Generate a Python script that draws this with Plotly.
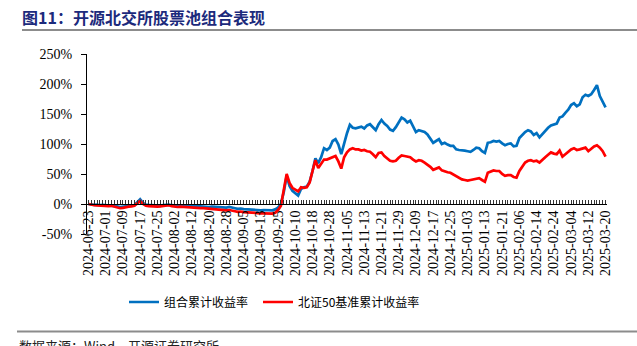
import pandas as pd
import plotly.graph_objects as go

# Trading calendar (A-share market), starting from the base date
start_date = "2024-06-23"
holidays = ["2024-09-16", "2024-09-17",
            "2024-10-01", "2024-10-02", "2024-10-03", "2024-10-04", "2024-10-07",
            "2025-01-01",
            "2025-01-28", "2025-01-29", "2025-01-30", "2025-01-31", "2025-02-03", "2025-02-04"]
bdays = pd.bdate_range("2024-06-24", "2025-03-20")
bdays = [d for d in bdays if d.strftime("%Y-%m-%d") not in holidays]
dates = [start_date] + [d.strftime("%Y-%m-%d") for d in bdays]

# Cumulative return of the portfolio (%)
portfolio = [
    0, -1, -1.5, -1, -2, -1.5, -2, -2.5, -2, -3,
    -4, -5, -4.5, -3.5, -3, -2.5, -2, 3, 8, 2,
    -1, -1.5, -2, -2.5, -2, -3, -2, -1.5, -1, -2,
    -3, -3, -2.5, -3, -3.5, -3, -3.5, -4, -3.5, -4,
    -4.5, -4, -5, -4.5, -5, -5, -6, -5.5, -6, -5,
    -6.5, -7, -8, -7.5, -8.5, -9, -9.5, -10, -9.5, -10,
    -10.5, -10, -10.5, -10, -10.5, -9, -6, 0, 20, 47,
    30, 22, 18, 14, 25, 28, 29, 37, 55, 76,
    68, 78, 93, 90, 94, 105, 108, 99, 83, 102,
    118, 132, 127, 126, 127, 129, 126, 131, 133, 128,
    123, 133, 140, 134, 130, 124, 122, 128, 136, 144,
    141, 136, 139, 128, 120, 123, 122, 120, 116, 108,
    102, 105, 108, 100, 102, 99, 97, 97, 91, 90,
    90, 89, 88, 87, 90, 94, 93, 88, 85, 102,
    103, 105, 104, 105, 101, 98, 100, 101, 96, 97,
    110, 116, 120, 123, 121, 115, 118, 111, 117, 123,
    127, 131, 133, 134, 144, 146, 152, 157, 165, 168,
    163, 166, 178, 182, 180, 183, 190, 198, 180, 170,
    161,
]

# Cumulative return of the BSE 50 benchmark (%)
benchmark = [
    0, -1.5, -2, -2.5, -3, -2.5, -3, -3.5, -3, -4,
    -5.5, -7, -6.5, -5, -4.5, -4, -3, 1, 5, 0,
    -3, -3.5, -4, -4, -4.5, -4, -3.5, -2.5, -2, -3.5,
    -4.5, -5, -4.5, -5, -5, -5.5, -6, -6, -6.5, -7,
    -7, -7.5, -8, -7.5, -8, -8.5, -9.5, -10, -10.5, -10,
    -11.5, -12, -13, -12.5, -13.5, -14, -14.5, -15, -14.5, -15,
    -15.5, -15.5, -16, -15.5, -16, -14.5, -10, -3, 22, 50,
    35, 27, 24, 21, 28, 27, 28, 36, 55, 73,
    60, 66, 74, 74, 76, 79, 80, 71, 59, 78,
    86, 91, 93, 91, 91, 89, 90, 88, 87, 83,
    78, 85, 86, 80, 76, 72, 71, 72, 77, 81,
    80, 79, 78, 74, 71, 73, 72, 69, 66, 62,
    57, 59, 61, 56, 54, 53, 52, 49, 46, 43,
    41, 40, 39, 40, 41, 43, 43, 40, 37, 52,
    54, 56, 55, 55, 50, 47, 48, 48, 45, 44,
    55, 63, 69, 72, 73, 71, 72, 69, 74, 78,
    82, 86, 84, 83, 89, 79, 83, 87, 91, 93,
    90, 91, 93, 94, 88, 92, 96, 98, 94, 88,
    79,
]

series_names = ["组合累计收益率", "北证50基准累计收益率"]
series_colors = ["#0070C0", "#FF0000"]

y_ticks = [-50, 0, 50, 100, 150, 200, 250]
y_ticktext = [f"{v}%" for v in y_ticks]

idx = list(range(len(dates)))
label_step = 6

W, H = 637, 346
ML, MR, MT, MB = 87, 30, 54, 112
plot_w = W - ML - MR
plot_h = H - MT - MB


def px_x(px):
    return (px - ML) / plot_w


def px_y(py):
    return (H - MB - py) / plot_h


serif = "Liberation Serif, Times New Roman, serif"
cjk = "Noto Sans CJK SC, sans-serif"

fig = go.Figure()
legend_ids = ["legend", "legend2"]
for name, vals, color, lg in zip(series_names, [portfolio, benchmark], series_colors, legend_ids):
    fig.add_trace(go.Scatter(
        x=idx, y=vals, mode="lines", name=name, legend=lg,
        line=dict(color=color, width=2.7),
    ))

zero_pos = (0 - y_ticks[0]) / (y_ticks[-1] - y_ticks[0])

legend_style = dict(
    orientation="h", xanchor="left", yanchor="middle", y=px_y(302),
    font=dict(family=cjk, size=12, color="black"),
    bgcolor="rgba(0,0,0,0)", itemwidth=30,
)

fig.update_layout(
    width=W, height=H,
    margin=dict(l=ML, r=MR, t=MT, b=MB),
    paper_bgcolor="white", plot_bgcolor="white",
    title=dict(
        text="<b>图11：开源北交所股票池组合表现</b>",
        font=dict(family=cjk, size=16, color="#1C2A7C"),
        x=22 / W, xanchor="left", xref="container",
        y=1 - 18 / H, yanchor="middle", yref="container",
    ),
    xaxis=dict(
        range=[-0.5, len(dates) - 0.5],
        anchor="free", position=zero_pos,
        showline=True, linecolor="black", linewidth=1,
        ticks="inside", ticklen=4, tickcolor="#333", tickwidth=1,
        tickvals=idx[::label_step], ticktext=dates[::label_step],
        tickangle=-90, tickfont=dict(family=serif, size=14, color="black"),
        minor=dict(dtick=1, ticks="inside", ticklen=4, tickcolor="#333", tickwidth=1),
        showgrid=False, zeroline=False,
    ),
    yaxis=dict(
        range=[y_ticks[0], y_ticks[-1]],
        tickvals=y_ticks, ticktext=y_ticktext,
        showline=True, linecolor="black", linewidth=1,
        ticks="outside", ticklen=5, tickcolor="black",
        ticklabelstandoff=6,
        tickfont=dict(family=serif, size=14, color="black"),
        showgrid=False, zeroline=False,
    ),
    legend=dict(legend_style, x=px_x(124)),
    legend2=dict(legend_style, x=px_x(258)),
    showlegend=True,
)

# Rules under the title and above the source note
fig.add_shape(type="line", xref="paper", yref="paper",
              x0=px_x(22), x1=px_x(W), y0=px_y(30), y1=px_y(30),
              line=dict(color="#8C8C8C", width=2))
fig.add_shape(type="line", xref="paper", yref="paper",
              x0=px_x(17), x1=px_x(W), y0=px_y(331.5), y1=px_y(331.5),
              line=dict(color="#8C8C8C", width=2))

fig.add_annotation(
    text="数据来源：Wind、开源证券研究所",
    xref="paper", yref="paper", x=px_x(17), y=px_y(334),
    xanchor="left", yanchor="top", showarrow=False,
    font=dict(family=cjk, size=13, color="#222"),
)

fig.write_html("out.html")
